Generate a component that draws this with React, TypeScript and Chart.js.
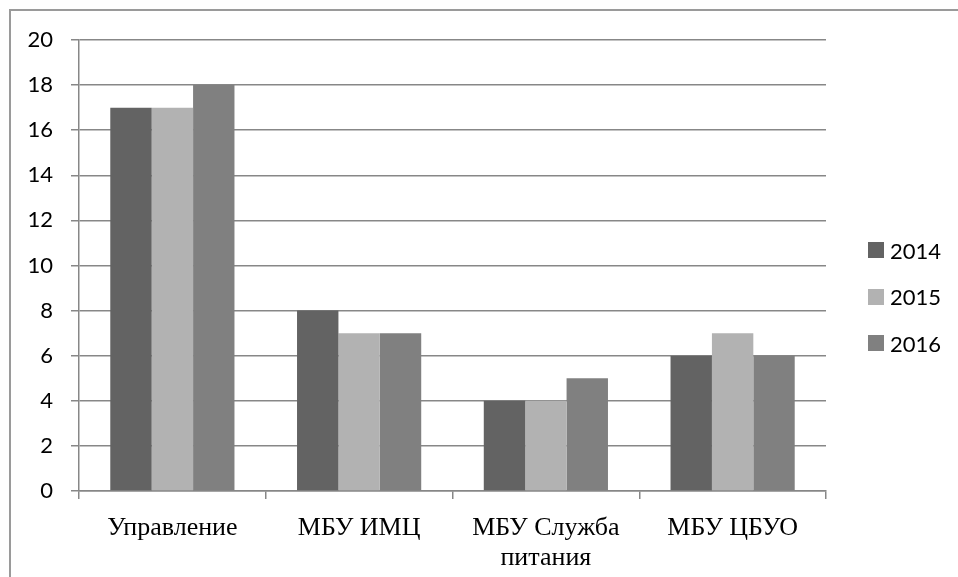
import React, { useEffect, useRef } from "react";
import { Chart, registerables } from "chart.js";

Chart.register(...registerables);

// Staff counts by organisation and year
const categories: (string | string[])[] = [
  "Управление",
  "МБУ ИМЦ",
  ["МБУ Служба", "питания"],
  "МБУ ЦБУО",
];
const years = ["2014", "2015", "2016"];
const values2014 = [17, 8, 4, 6];
const values2015 = [17, 7, 4, 7];
const values2016 = [18, 7, 5, 6];
const yTicks = [0, 2, 4, 6, 8, 10, 12, 14, 16, 18, 20];

const colors = ["#636363", "#b2b2b2", "#808080"];
const gridColor = "#878787";
const sansFont = "Lato, 'Open Sans', sans-serif";

export default function App() {
  const canvasRef = useRef<HTMLCanvasElement | null>(null);

  useEffect(() => {
    if (!canvasRef.current) return;
    const series = [values2014, values2015, values2016];
    const chart = new Chart(canvasRef.current, {
      type: "bar",
      data: {
        labels: categories,
        datasets: years.map((y, i) => ({
          label: y,
          data: series[i],
          backgroundColor: colors[i],
          borderWidth: 0,
          barPercentage: 1,
          categoryPercentage: 0.665,
        })),
      },
      options: {
        animation: false,
        responsive: false,
        maintainAspectRatio: false,
        layout: { padding: { left: 0, top: 40, right: 132, bottom: 0 } },
        plugins: {
          legend: { display: false },
          tooltip: { enabled: false },
        },
        scales: {
          x: {
            afterFit: (scale: any) => {
              scale.height = 86;
            },
            grid: {
              drawOnChartArea: false,
              drawTicks: true,
              tickLength: 8,
              color: gridColor,
              lineWidth: 1.5,
              offset: true,
            },
            border: { color: gridColor, width: 1.5 },
            ticks: {
              color: "#000",
              padding: 14,
              maxRotation: 0,
              autoSkip: false,
              font: { family: "'Liberation Serif', 'Times New Roman', serif", size: 26, lineHeight: 1.15 },
            },
          },
          y: {
            min: 0,
            max: 20,
            afterFit: (scale: any) => {
              scale.width = 79;
            },
            afterBuildTicks: (scale: any) => {
              scale.ticks = yTicks.map((v) => ({ value: v }));
            },
            grid: {
              color: gridColor,
              lineWidth: 1.5,
              tickLength: 8,
              drawTicks: true,
            },
            border: { color: gridColor, width: 1.5 },
            ticks: {
              color: "#000",
              padding: 18,
              font: { family: sansFont, size: 22 },
            },
          },
        },
      },
    });
    return () => chart.destroy();
  }, []);

  return (
    <div style={{ position: "absolute", left: 0, top: 0, width: 958, height: 577, background: "#fff", overflow: "hidden" }}>
      <div
        style={{
          position: "absolute",
          left: 9,
          top: 9,
          width: 960,
          height: 580,
          borderLeft: "2px solid #9a9a9a",
          borderTop: "2px solid #9a9a9a",
        }}
      />
      <canvas ref={canvasRef} width={958} height={577} style={{ position: "absolute", left: 0, top: 0 }} />
      {years.map((y, i) => (
        <div
          key={y}
          style={{
            position: "absolute",
            left: 868,
            top: 250 + i * 46.5 - 13,
            height: 26,
            display: "flex",
            alignItems: "center",
            fontFamily: sansFont,
            fontSize: 22,
            color: "#000",
          }}
        >
          <span style={{ display: "inline-block", width: 16, height: 16, background: colors[i], marginRight: 6 }} />
          <span>{y}</span>
        </div>
      ))}
    </div>
  );
}
